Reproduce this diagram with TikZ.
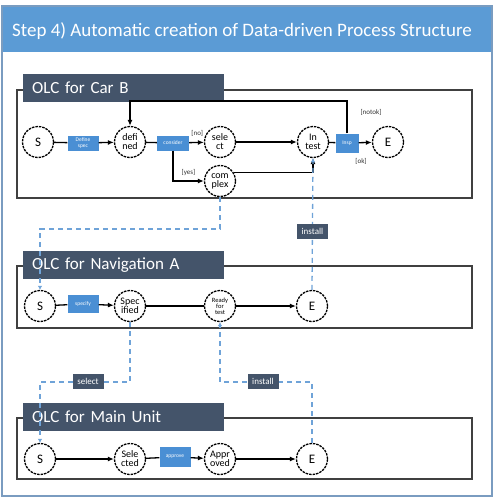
\documentclass[tikz,border=0pt]{standalone}
\usepackage{fontspec}
\setmainfont{Carlito}
\usetikzlibrary{arrows.meta}
\definecolor{hdr}{HTML}{5B9BD5}
\definecolor{framecol}{HTML}{7A9CC0}
\definecolor{slate}{HTML}{44546A}
\definecolor{boxblue}{HTML}{4A8FD4}
\definecolor{depblue}{HTML}{6FA3D8}
\begin{document}
\begin{tikzpicture}[x=1pt,y=-1pt,
 state/.style={circle,draw=black,dash pattern=on 2.5pt off 1pt,line width=1.3pt,minimum size=31pt,inner sep=0pt,align=center,font=\fontsize{10}{9}\selectfont,fill=white},
 act/.style={fill=boxblue,text=white,font=\fontsize{5.5}{5.5}\selectfont,minimum width=31pt,minimum height=15pt,inner sep=1pt,align=center},
 flow/.style={line width=1.3pt,-{Latex[length=6pt,width=5pt]}},
 plain/.style={line width=1.3pt},
 deplink/.style={draw=depblue,dash pattern=on 5pt off 4pt,line width=1.3pt},
 deparrow/.style={deplink,-{Latex[length=4pt,width=4.5pt]}},
 olcbox/.style={draw=black!75,line width=1.1pt,fill=white},
 olc/.style={fill=slate,text=white,font=\fontsize{17}{17}\selectfont,anchor=north west,text width=183pt,minimum height=28pt,inner xsep=9pt,inner ysep=0pt,align=left},
 deplabel/.style={fill=slate,text=white,font=\fontsize{9}{9}\selectfont,minimum width=31pt,minimum height=15pt,inner sep=1pt},
 guard/.style={font=\fontsize{7}{7}\selectfont,text=black!80},
 big/.style={font=\fontsize{13}{13}\selectfont}
]
\useasboundingbox (0,0) rectangle (495,498);
% outer frame and header
\fill[white] (2,6) rectangle (492,496);
\fill[hdr] (2,6) rectangle (492,52);
\draw[framecol,line width=1.5pt] (2,6) rectangle (492,496);
\node[anchor=west,text=white,font=\fontsize{19}{19}\selectfont,inner sep=0pt] (title) at (12,31) {Step 4) Automatic creation of Data-driven Process Structure};

% ---------- OLC for Car B ----------
\draw[olcbox] (17,90) rectangle (472,198);
\node[olc] (olcB) at (23,74) {OLC for Car B};
\node[state,big] (S1) at (38,142) {S};
\node[act] (defspec) at (83,143) {Define\\spec};
\node[state] (d1) at (130,142) {defi\\ned};
\node[act,minimum width=32pt] (consider) at (173,143) {consider};
\node[state] (sel) at (220,142) {sele\\ct};
\node[state] (cpx) at (220,181) {com\\plex};
\node[state] (tst) at (313,142) {In\\test};
\node[act,minimum width=23pt,minimum height=19pt] (insp) at (347,143) {Insp};
\node[state,big] (E1) at (388,142) {E};

\draw[plain] (S1) -- (defspec);
\draw[flow] (defspec) -- (d1);
\draw[plain] (d1) -- (consider);
\draw[flow] (consider) -- (sel) node[guard,pos=0.55,above=2pt] (gno) {[no]};
\draw[flow] (consider.south) |- (cpx.west) node[guard,pos=0.75,above=1pt] (gyes) {[yes]};
\draw[flow] (sel) -- (tst);
\draw[flow] (cpx.32) -| (tst.south);
\draw[plain] (tst) -- (insp);
\draw[flow] (insp) -- (E1);
\coordinate (loopR) at (347,101);
\draw[flow] (insp.north) -- (loopR) -| (d1.north);
\node[guard] (gnotok) at (371,112) {[notok]};
\node[guard] (gok) at (361,161) {[ok]};

% ---------- OLC for Navigation A ----------
\draw[olcbox] (17,266) rectangle (472,328);
\node[olc] (olcN) at (23,251) {OLC for Navigation A};
\node[state,big] (S2) at (40,306) {S};
\node[act,minimum height=18pt] (specify) at (83,304) {specify};
\node[state] (spec) at (130,306) {Spec\\ified};
\node[state,font=\fontsize{6.5}{6}\selectfont] (rdy) at (220,306) {Ready\\for\\test};
\node[state,big] (E2) at (312,306) {E};
\draw[plain] (S2) -- (specify);
\draw[flow] (specify) -- (spec);
\draw[plain] (spec) -- (rdy);
\draw[flow] (rdy) -- (E2);

% ---------- OLC for Main Unit ----------
\draw[olcbox] (17,418) rectangle (472,479);
\node[olc] (olcM) at (23,403) {OLC for Main Unit};
\node[state,big] (S3) at (40,459) {S};
\node[state] (sel3) at (130,459) {Sele\\cted};
\node[act,minimum height=20pt] (approve) at (175,457) {approve};
\node[state] (appr) at (220,459) {Appr\\oved};
\node[state,big] (E3) at (312,459) {E};
\draw[flow] (S3) -- (sel3);
\draw[plain] (sel3) -- (approve);
\draw[flow] (approve) -- (appr);
\draw[flow] (appr) -- (E3);

% ---------- data dependencies ----------
\coordinate (c1) at (220,229);
\draw[deparrow] (cpx.south) -- (c1) -| (S2.north);
\draw[deparrow] (E2.north) -- (tst.south) node[deplabel,pos=0.44] (inst1) {install};
\coordinate (c2) at (130,382);
\draw[deparrow] (spec.south) -- (c2) -| (S3.north);
\node[deplabel] (selectlbl) at (88,381) {select};
\coordinate (c3) at (312,382);
\draw[deparrow] (E3.north) -- (c3) -| (rdy.south);
\node[deplabel] (inst2) at (263,381) {install};
\end{tikzpicture}
\end{document}
